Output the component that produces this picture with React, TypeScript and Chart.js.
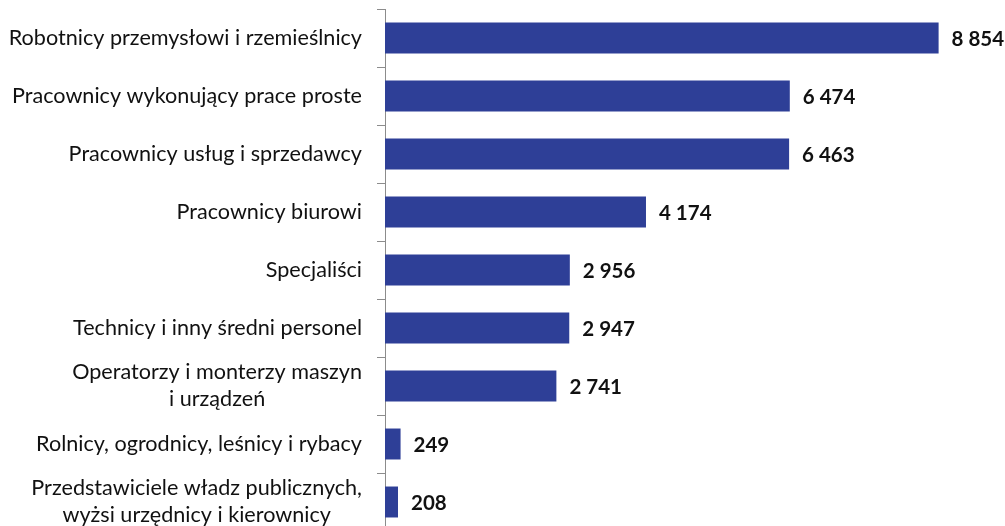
import React, { useEffect, useRef } from "react";
import { Chart, registerables } from "chart.js";

Chart.register(...registerables);

const categories: string[][] = [
  ["Robotnicy przemysłowi i rzemieślnicy"],
  ["Pracownicy wykonujący prace proste"],
  ["Pracownicy usług i sprzedawcy"],
  ["Pracownicy biurowi"],
  ["Specjaliści"],
  ["Technicy i inny średni personel"],
  ["Operatorzy i monterzy maszyn", "i urządzeń"],
  ["Rolnicy, ogrodnicy, leśnicy i rybacy"],
  ["Przedstawiciele władz publicznych,", "wyżsi urzędnicy i kierownicy"],
];

const values: number[] = [8854, 6474, 6463, 4174, 2956, 2947, 2741, 249, 208];

const BAR_COLOR = "#2E3F97";
const AXIS_COLOR = "#8C8C8C";
const LABEL_FONT = "21.6px Lato";
const VALUE_FONT = "bold 20.5px Lato";

function fmt(v: number): string {
  return String(v).replace(/\B(?=(\d{3})+(?!\d))/g, " ");
}

const textPlugin = {
  id: "textPlugin",
  afterDraw(chart: any) {
    const ctx = chart.ctx as CanvasRenderingContext2D;
    const yScale = chart.scales.y;
    const meta = chart.getDatasetMeta(0);
    ctx.save();
    ctx.fillStyle = "#111";
    ctx.textBaseline = "middle";
    ctx.font = LABEL_FONT;
    const rightX = yScale.right - 23;
    const lineH = 27;
    categories.forEach((lines, i) => {
      const cy = yScale.getPixelForValue(i);
      const widths = lines.map((l) => ctx.measureText(l).width);
      const maxW = Math.max(...widths);
      const centerX = rightX - maxW / 2;
      const startY = cy - ((lines.length - 1) * lineH) / 2;
      ctx.textAlign = "center";
      lines.forEach((l, j) => {
        ctx.fillText(l, centerX, startY + j * lineH);
      });
    });
    ctx.font = VALUE_FONT;
    ctx.textAlign = "left";
    meta.data.forEach((bar: any, i: number) => {
      ctx.fillText(fmt(values[i]), bar.x + 13, bar.y + 1);
    });
    ctx.restore();
  },
};

export default function App() {
  const ref = useRef<HTMLCanvasElement | null>(null);
  useEffect(() => {
    if (!ref.current) return;
    const chart = new Chart(ref.current, {
      type: "bar",
      data: {
        labels: categories.map((c) => c.join(" ")),
        datasets: [
          {
            data: values,
            backgroundColor: BAR_COLOR,
            borderWidth: 0,
            barPercentage: 0.534,
            categoryPercentage: 1,
          },
        ],
      },
      options: {
        indexAxis: "y",
        animation: false,
        responsive: false,
        maintainAspectRatio: false,
        layout: { padding: { top: 9, bottom: 9, left: 0, right: 26 } },
        plugins: {
          legend: { display: false },
          tooltip: { enabled: false },
        },
        scales: {
          x: {
            display: false,
            min: 0,
            max: 9500,
          },
          y: {
            grid: {
              display: true,
              drawOnChartArea: false,
              drawTicks: true,
              tickLength: 8,
              color: AXIS_COLOR,
              offset: true,
            },
            border: { display: true, color: AXIS_COLOR, width: 1 },
            ticks: { display: false },
            afterFit: (s: any) => {
              s.width = 385;
            },
          },
        },
      },
      plugins: [textPlugin],
    });
    return () => chart.destroy();
  }, []);
  return (
    <div style={{ position: "absolute", left: 0, top: 0, width: 1005, height: 540 }}>
      <canvas ref={ref} width={1005} height={540} style={{ display: "block" }} />
    </div>
  );
}
